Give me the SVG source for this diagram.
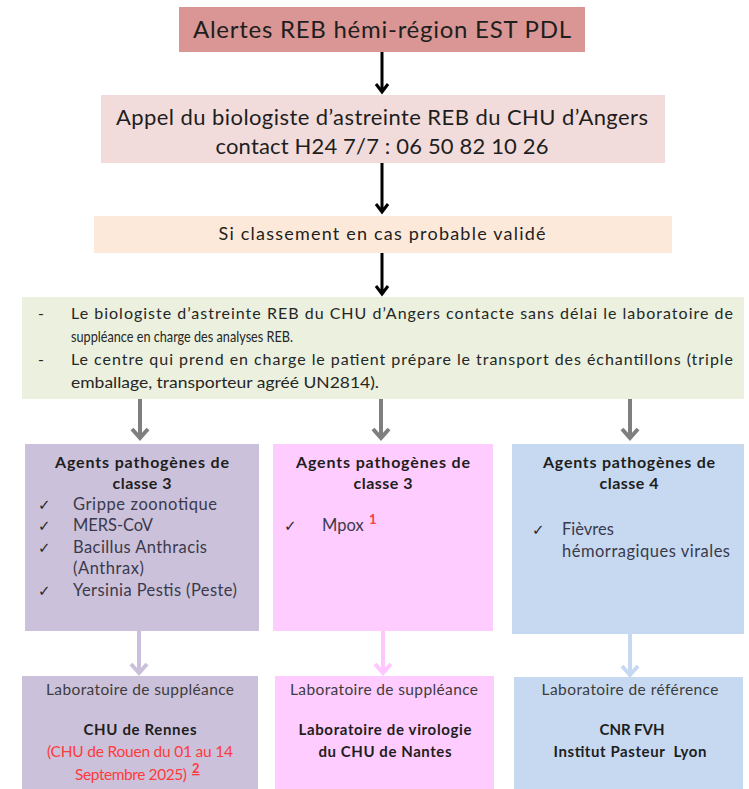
<svg xmlns="http://www.w3.org/2000/svg" width="749" height="789" viewBox="0 0 749 789">
<style>
text{font-family:Lato,"Liberation Sans","DejaVu Sans",sans-serif;fill:#1e1e1e}
.c{text-anchor:middle}
.b{font-weight:bold}
.li{font-size:16.5px;fill:#3a3a4c}
.ck{font-family:"DejaVu Sans",sans-serif;font-size:15px;fill:#2a2a2a}
.lab{font-size:15.5px;fill:#3c3c3c}
.red{fill:#ff3b3b}
.g{font-size:16px;fill:#262626}
.blk{stroke:#000;stroke-width:3;fill:none}
.gry{stroke:#7f7f7f;stroke-width:4;fill:none}
.lav{stroke:#cbc0dc;stroke-width:4;fill:none}
.pnk{stroke:#ffc6ff;stroke-width:4;fill:none}
.blu{stroke:#c6d9f1;stroke-width:4;fill:none}
</style>
<rect width="749" height="789" fill="#fff"/>
<g id="connectors">
<path class="blk" d="M382 52V92M376 84L382 92L388 84"/>
<path class="blk" d="M382 163V212M376 204L382 212L388 204"/>
<path class="blk" d="M382 253V294M376 286L382 294L388 286"/>
<path class="gry" d="M140 399V438M132 429L140 438L148 429"/>
<path class="gry" d="M381 399V438M373 429L381 438L389 429"/>
<path class="gry" d="M630 399V438M622 429L630 438L638 429"/>
<path class="lav" d="M139 631V673M131 664L139 673L147 664"/>
<path class="pnk" d="M383 631V673M375 664L383 673L391 664"/>
<path class="blu" d="M630 634V675M622 666L630 675L638 666"/>
</g>
<g id="alertes">
<rect x="179" y="7" width="406" height="45" fill="#d99694"/>
<text class="c" x="382" y="38" font-size="24" textLength="378">Alertes REB hémi-région EST PDL</text>
</g>
<g id="appel">
<rect x="101" y="95" width="564" height="68" fill="#f2dcdb"/>
<text class="c" x="382" y="125" font-size="22" textLength="532">Appel du biologiste d’astreinte REB du CHU d’Angers</text>
<text class="c" x="382" y="154" font-size="22" textLength="333">contact H24 7/7 : 06 50 82 10 26</text>
</g>
<g id="classement">
<rect x="94" y="216" width="578" height="37" fill="#fde9d9"/>
<text class="c" x="382" y="240" font-size="18" textLength="327">Si classement en cas probable validé</text>
</g>
<g id="actions">
<rect x="22" y="297" width="722" height="102" fill="#ebf1de"/>
<text class="g" x="38" y="319">-</text>
<text class="g" x="71" y="319" textLength="662">Le biologiste d’astreinte REB du CHU d’Angers contacte sans délai le laboratoire de</text>
<text class="g" x="71" y="342" textLength="222" lengthAdjust="spacingAndGlyphs">suppléance en charge des analyses REB.</text>
<text class="g" x="38" y="365">-</text>
<text class="g" x="71" y="365" textLength="662">Le centre qui prend en charge le patient prépare le transport des échantillons (triple</text>
<text class="g" x="71" y="388" textLength="308" lengthAdjust="spacingAndGlyphs">emballage, transporteur agréé UN2814).</text>
</g>
<g id="classe3a">
<rect x="25" y="444" width="234" height="187" fill="#ccc1da"/>
<text class="c b" x="142" y="468" font-size="16" textLength="174">Agents pathogènes de</text>
<text class="c b" x="142" y="489" font-size="16" textLength="59">classe 3</text>
<text class="ck" x="38" y="510">✓</text>
<text class="li" x="73" y="510" textLength="144">Grippe zoonotique</text>
<text class="ck" x="38" y="531">✓</text>
<text class="li" x="73" y="531" textLength="80">MERS-CoV</text>
<text class="ck" x="38" y="553">✓</text>
<text class="li" x="73" y="553" textLength="134">Bacillus Anthracis</text>
<text class="li" x="73" y="574" textLength="71">(Anthrax)</text>
<text class="ck" x="38" y="596">✓</text>
<text class="li" x="73" y="596" textLength="164">Yersinia Pestis (Peste)</text>
</g>
<g id="classe3b">
<rect x="273" y="444" width="220" height="187" fill="#ffccff"/>
<text class="c b" x="383" y="468" font-size="16" textLength="174">Agents pathogènes de</text>
<text class="c b" x="383" y="489" font-size="16" textLength="59">classe 3</text>
<text class="ck" x="284" y="531">✓</text>
<text class="li" x="322" y="531">Mpox</text>
<text class="b red" x="369" y="524" font-size="13">1</text>
</g>
<g id="classe4">
<rect x="512" y="444" width="232" height="190" fill="#c6d9f1"/>
<text class="c b" x="629" y="468" font-size="16" textLength="172">Agents pathogènes de</text>
<text class="c b" x="629" y="489" font-size="16" textLength="59">classe 4</text>
<text class="ck" x="532" y="535">✓</text>
<text class="li" x="562" y="535">Fièvres</text>
<text class="li" x="562" y="557" textLength="168">hémorragiques virales</text>
</g>
<g id="lab-rennes">
<rect x="22" y="676" width="236" height="113" fill="#ccc1da"/>
<text class="c lab" x="140" y="695" textLength="188">Laboratoire de suppléance</text>
<text class="c b" x="140" y="735" font-size="15" textLength="113">CHU de Rennes</text>
<text class="c lab red" x="140" y="757" textLength="186">(CHU de Rouen du 01 au 14</text>
<text class="lab red" x="75" y="780" textLength="112">Septembre 2025)</text>
<text class="b red" x="192" y="773" font-size="13" text-decoration="underline">2</text>
</g>
<g id="lab-nantes">
<rect x="275" y="676" width="219" height="113" fill="#ffccff"/>
<text class="c lab" x="384" y="695" textLength="188">Laboratoire de suppléance</text>
<text class="c b" x="385" y="735" font-size="15" textLength="173">Laboratoire de virologie</text>
<text class="c b" x="385" y="757" font-size="15" textLength="133">du CHU de Nantes</text>
</g>
<g id="lab-lyon">
<rect x="514" y="677" width="229" height="112" fill="#c6d9f1"/>
<text class="c lab" x="630" y="695" textLength="177">Laboratoire de référence</text>
<text class="c b" x="632" y="735" font-size="15" textLength="65">CNR FVH</text>
<text class="c b" x="630" y="757" font-size="15" textLength="153" xml:space="preserve">Institut Pasteur  Lyon</text>
</g>
</svg>
